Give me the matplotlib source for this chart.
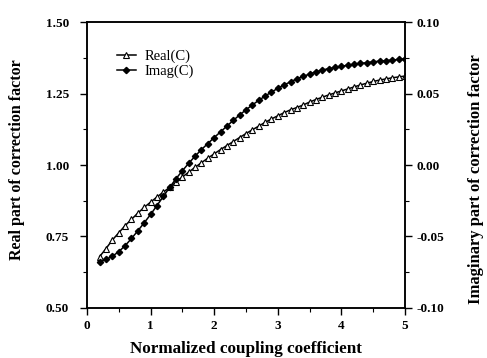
import matplotlib
matplotlib.use('Agg')
import matplotlib.pyplot as plt
from matplotlib.ticker import MultipleLocator
import numpy as np

# Normalized coupling coefficient
coupling = [0.2, 0.3, 0.4, 0.5, 0.6, 0.7, 0.8, 0.9, 1.0,
            1.1, 1.2, 1.3, 1.4, 1.5, 1.6, 1.7, 1.8, 1.9, 2.0,
            2.1, 2.2, 2.3, 2.4, 2.5, 2.6, 2.7, 2.8, 2.9, 3.0,
            3.1, 3.2, 3.3, 3.4, 3.5, 3.6, 3.7, 3.8, 3.9, 4.0,
            4.1, 4.2, 4.3, 4.4, 4.5, 4.6, 4.7, 4.8, 4.9, 5.0]

# Real part (left axis)
real_c = [0.680, 0.708, 0.738, 0.763, 0.788, 0.810, 0.832, 0.852, 0.870,
          0.888, 0.905, 0.922, 0.940, 0.958, 0.975, 0.992, 1.008, 1.024, 1.039,
          1.054, 1.068, 1.082, 1.096, 1.110, 1.123, 1.136, 1.149, 1.161, 1.172,
          1.183, 1.193, 1.201, 1.210, 1.220, 1.229, 1.237, 1.245, 1.252, 1.259,
          1.266, 1.273, 1.280, 1.286, 1.292, 1.297, 1.301, 1.305, 1.308, 1.311]

# Imaginary part (right axis)
imag_c = [-0.0676, -0.0660, -0.0638, -0.0606, -0.0564, -0.0514, -0.0460, -0.0404, -0.0346,
          -0.0284, -0.0220, -0.0156, -0.0096, -0.0040, 0.0012, 0.0062, 0.0108, 0.0150, 0.0192,
          0.0232, 0.0272, 0.0312, 0.0350, 0.0386, 0.0420, 0.0452, 0.0482, 0.0510, 0.0536,
          0.0560, 0.0582, 0.0602, 0.0620, 0.0636, 0.0652, 0.0664, 0.0674, 0.0682, 0.0690,
          0.0698, 0.0704, 0.0710, 0.0716, 0.0722, 0.0726, 0.0730, 0.0734, 0.0738, 0.0742]

x_ticks = [0, 1, 2, 3, 4, 5]
left_ticks = [0.50, 0.75, 1.00, 1.25, 1.50]
right_ticks = [-0.10, -0.05, 0.00, 0.05, 0.10]

plt.rcParams['font.family'] = ['Liberation Serif', 'DejaVu Serif']

fig = plt.figure(figsize=(4.87, 3.58), dpi=100)
ax = fig.add_axes([0.1786, 0.1397, 0.653, 0.7988])
ax2 = ax.twinx()

l1, = ax.plot(coupling, real_c, color='black', lw=1.1, marker='^', ms=4.5,
              mfc='white', mec='black', mew=0.8, label='Real(C)')
l2, = ax2.plot(coupling, imag_c, color='black', lw=1.1, marker='D', ms=3.2,
               mfc='black', mec='black', label='Imag(C)')

ax.set_xlim(0, 5)
ax.set_ylim(0.5, 1.5)
ax2.set_ylim(-0.10, 0.10)

ax.set_xticks(x_ticks)
ax.set_xticklabels([f'{v:d}' for v in x_ticks])
ax.set_yticks(left_ticks)
ax.set_yticklabels([f'{v:.2f}' for v in left_ticks])
ax2.set_yticks(right_ticks)
ax2.set_yticklabels([f'{v:.2f}' for v in right_ticks])
ax.xaxis.set_minor_locator(MultipleLocator(0.5))
ax.yaxis.set_minor_locator(MultipleLocator(0.125))
ax2.yaxis.set_minor_locator(MultipleLocator(0.025))

ax.tick_params(which='both', direction='out', top=False, right=False)
ax2.tick_params(which='both', direction='out', top=False, left=False)
ax.tick_params(axis='y', which='major', pad=8)
for a in (ax, ax2):
    a.tick_params(which='major', length=5, width=1)
    a.tick_params(which='minor', length=3, width=0.8)
    for lab in a.get_xticklabels() + a.get_yticklabels():
        lab.set_fontweight('bold')
        lab.set_fontsize(9.5)
    for s in a.spines.values():
        s.set_linewidth(1.1)

ax.set_xlabel('Normalized coupling coefficient', fontsize=12.3, fontweight='bold')
ax.set_ylabel('Real part of correction factor', fontsize=11.5, fontweight='bold')
ax2.set_ylabel('Imaginary part of correction factor', fontsize=12, fontweight='bold')
ax.xaxis.set_label_coords(0.5, -0.115)
ax.yaxis.set_label_coords(-0.195, 0.52)
ax2.yaxis.set_label_coords(1.198, 0.45)

ax.legend(handles=[l1, l2], loc='upper left', bbox_to_anchor=(0.075, 0.925),
          frameon=False, fontsize=10.5, handlelength=1.3, handletextpad=0.6,
          labelspacing=0.15, borderaxespad=0)

fig.savefig('out.png', dpi=100)
